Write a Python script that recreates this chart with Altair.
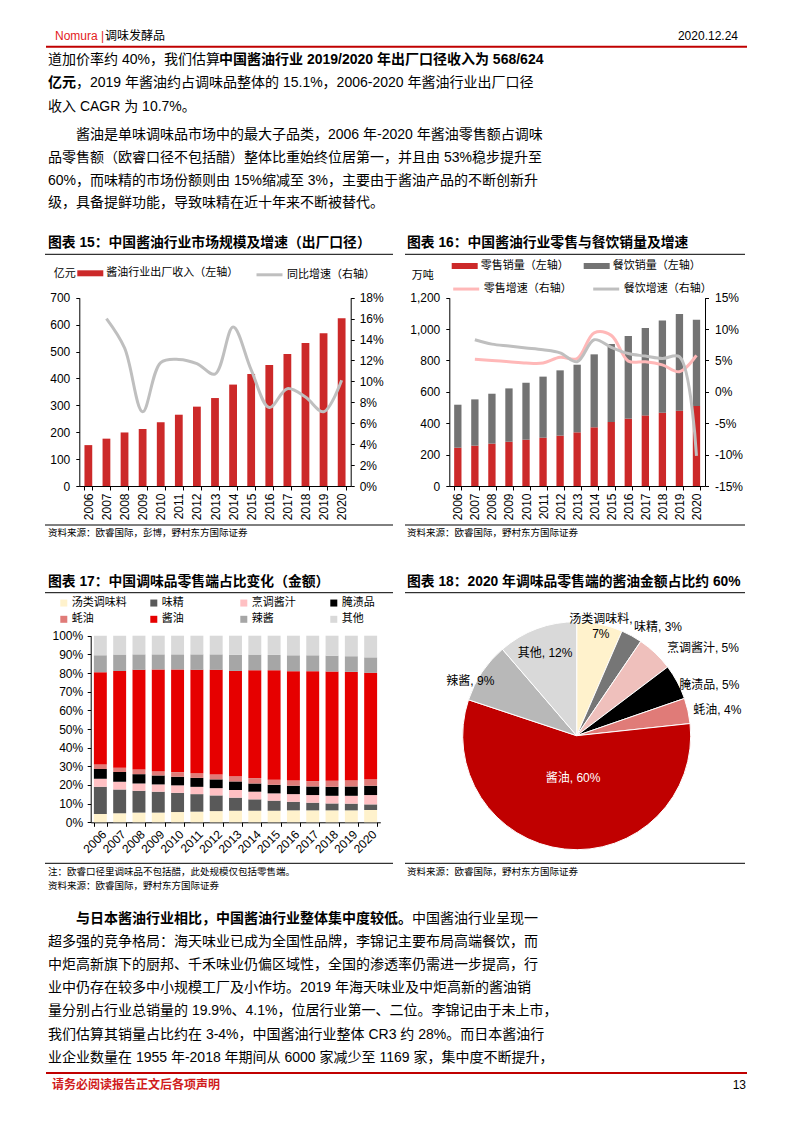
import altair as alt
import pandas as pd

M = 8
W, H = 777, 1106
FONT = "'Liberation Sans', 'Noto Sans CJK SC'"

years = [str(y) for y in range(2006, 2021)]

# 图表15 酱油行业出厂收入（亿元）与同比增速（%）
rev_15 = [152, 176, 199, 212, 237, 265, 295, 327, 377, 416, 450, 491, 532, 568, 624]
yoy_15 = [None, 16.0, 13.2, 7.1, 11.8, 12.1, 11.7, 10.7, 15.2, 11.1, 7.5, 9.3, 8.5, 7.1, 10.1]
s15_bar = "酱油行业出厂收入（左轴）"
s15_line = "同比增速（右轴）"

# 图表16 零售 / 餐饮销量（万吨）与增速（%）
retail_16 = [244, 257, 270, 282, 295, 308, 321, 342, 374, 408, 429, 450, 467, 480, 510]
catering_16 = [274, 295, 318, 340, 363, 389, 416, 431, 465, 497, 527, 557, 587, 616, 550]
retail_yoy_16 = [None, 5.2, 5.0, 4.8, 4.6, 4.6, 5.5, 5.3, 9.4, 9.0, 4.9, 4.8, 4.3, 3.2, 5.8]
catering_yoy_16 = [None, 8.3, 7.6, 7.3, 7.0, 6.7, 6.2, 4.8, 8.3, 7.1, 6.1, 5.7, 5.3, 5.6, -10.2]
s16_bars = ["零售销量（左轴）", "餐饮销量（左轴）"]
s16_lines = ["零售增速（右轴）", "餐饮增速（右轴）"]

# 图表17 调味品零售端占比（%）
cats = ["汤类调味料", "味精", "烹调酱汁", "腌渍品", "蚝油", "酱油", "辣酱", "其他"]
soup = [4.4, 4.8, 5.2, 5.2, 5.5, 5.7, 6.0, 6.2, 6.2, 6.2, 6.4, 6.4, 6.4, 6.4, 6.6]
msg = [14.6, 12.8, 11.7, 11.2, 10.3, 9.4, 8.4, 7.0, 6.1, 5.4, 4.6, 4.1, 3.7, 3.6, 3.0]
sauce = [4.3, 4.1, 3.9, 3.9, 4.0, 3.9, 3.9, 4.1, 4.1, 3.9, 4.1, 4.1, 4.1, 4.2, 5.0]
pickle = [5.3, 5.2, 5.0, 4.8, 4.6, 4.8, 4.7, 4.6, 4.4, 4.6, 4.5, 4.6, 4.8, 5.0, 5.0]
oyster = [2.4, 2.3, 2.5, 2.3, 2.5, 2.5, 2.6, 2.8, 2.9, 2.7, 2.8, 2.9, 3.2, 3.4, 3.5]
soy = [49.4, 51.9, 53.4, 54.5, 55.0, 55.4, 56.1, 56.4, 57.8, 58.7, 58.6, 58.9, 58.6, 58.0, 57.0]
chili = [9.1, 8.8, 8.3, 8.1, 8.1, 8.3, 8.3, 8.6, 8.4, 8.2, 8.5, 8.5, 8.5, 8.4, 8.3]
other = [10.5, 10.1, 10.0, 10.0, 10.0, 10.0, 10.0, 10.3, 10.1, 10.3, 10.5, 10.5, 10.7, 11.0, 11.6]
shares_17 = [soup, msg, sauce, pickle, oyster, soy, chili, other]

# 图表18 2020年占比
pie_vals = [6.5, 3.0, 5.2, 5.0, 3.6, 56.8, 8.6, 11.3]
pie_pct = ["7%", "3%", "5%", "5%", "4%", "60%", "9%", "12%"]

colors_17 = ["#FFF2CC", "#595959", "#FFC0C3", "#000000", "#E07B78", "#E60000", "#A6A6A6", "#D9D9D9"]
colors_18 = ["#FFF2CC", "#767676", "#EFC0BC", "#000000", "#E07B78", "#C00000", "#B8B8B8", "#D9D9D9"]

# ---------------- helpers ----------------
def T(text, x, y, size=14, weight="normal", color="#000000", align="left", font=FONT):
    return alt.Chart().mark_text(
        text=text, align=align, baseline="middle", fontSize=size,
        fontWeight=weight, color=color, font=font
    ).encode(x=alt.value(x - M), y=alt.value(y - M))


def R(x1, x2, y, color="#000000", width=1.0):
    return alt.Chart().mark_rule(color=color, strokeWidth=width).encode(
        x=alt.value(x1 - M), x2=alt.value(x2 - M), y=alt.value(y - M)
    )


AX = dict(domainColor="#000000", tickColor="#000000", labelColor="#000000",
          grid=False, labelFont="Liberation Sans", labelFontSize=12, domainWidth=1)
BAR_SYM = "M-1,-0.23H1V0.23H-1Z"
LEG = dict(orient="none", title=None, labelFont=FONT, labelFontSize=11,
           labelColor="#000000", padding=0)
TS = 13.8

layers = []

# ---------------- header / body text ----------------
layers += [
    T("Nomura |", 55, 36, 12, color="#E31A1C"),
    T("调味发酵品", 105, 36, 12),
    T("2020.12.24", 738, 36, 12, align="right"),
    R(46, 747, 46.7, "#C00000", 2),
]

top_lines = [
    (60, [(48, "道加价率约 40%，我们估算", "normal"),
          (219, "中国酱油行业 2019/2020 年出厂口径收入为 568/624", "bold")]),
    (83.3, [(48, "亿元", "bold"),
            (76, "，2019 年酱油约占调味品整体的 15.1%，2006-2020 年酱油行业出厂口径", "normal")]),
    (106.6, [(48, "收入 CAGR 为 10.7%。", "normal")]),
    (135, [(76, "酱油是单味调味品市场中的最大子品类，2006 年-2020 年酱油零售额占调味", "normal")]),
    (157.8, [(48, "品零售额（欧睿口径不包括醋）整体比重始终位居第一，并且由 53%稳步提升至", "normal")]),
    (180.6, [(48, "60%，而味精的市场份额则由 15%缩减至 3%，主要由于酱油产品的不断创新升", "normal")]),
    (203.4, [(48, "级，具备提鲜功能，导致味精在近十年来不断被替代。", "normal")]),
]
bottom_lines = [
    (918.5, [(76, "与日本酱油行业相比，中国酱油行业整体集中度较低。", "bold"),
             (412, "中国酱油行业呈现一", "normal")]),
    (941.7, [(48, "超多强的竞争格局：海天味业已成为全国性品牌，李锦记主要布局高端餐饮，而", "normal")]),
    (964.9, [(48, "中炬高新旗下的厨邦、千禾味业仍偏区域性，全国的渗透率仍需进一步提高，行", "normal")]),
    (988.1, [(48, "业中仍存在较多中小规模工厂及小作坊。2019 年海天味业及中炬高新的酱油销", "normal")]),
    (1011.3, [(48, "量分别占行业总销量的 19.9%、4.1%，位居行业第一、二位。李锦记由于未上市，", "normal")]),
    (1034.5, [(48, "我们估算其销量占比约在 3-4%，中国酱油行业整体 CR3 约 28%。而日本酱油行", "normal")]),
    (1057.7, [(48, "业企业数量在 1955 年-2018 年期间从 6000 家减少至 1169 家，集中度不断提升，", "normal")]),
]
for y, segs in top_lines + bottom_lines:
    for x, s, w in segs:
        layers.append(T(s, x, y, 14, weight=w))

layers += [
    R(46, 747, 1073, "#C00000", 2),
    T("请务必阅读报告正文后各项声明", 52, 1085, 12, weight="bold", color="#D01C1C"),
    T("13", 746, 1085, 12, align="right"),
]

# ---------------- chart titles, rules, sources ----------------
layers += [
    T("图表 15：中国酱油行业市场规模及增速（出厂口径）", 48, 243, TS, weight="bold"),
    R(45, 393, 254.3),
    R(45, 393, 525),
    T("资料来源：欧睿国际，彭博，野村东方国际证券", 48, 533, 9.5),
    T("图表 16：中国酱油行业零售与餐饮销量及增速", 407, 243, TS, weight="bold"),
    R(405, 745, 254.3),
    R(405, 745, 525),
    T("资料来源：欧睿国际，野村东方国际证券", 407, 533, 9.5),
    T("图表 17：中国调味品零售端占比变化（金额）", 48, 581.7, TS, weight="bold"),
    R(45, 393, 592.7),
    R(45, 393, 863.3),
    T("注：欧睿口径里调味品不包括醋，此处规模仅包括零售端。", 48, 872, 9.5),
    T("资料来源：欧睿国际，野村东方国际证券", 48, 885.5, 9.5),
    T("图表 18：2020 年调味品零售端的酱油金额占比约 60%", 407, 581.7, TS, weight="bold"),
    R(405, 745, 592.7),
    R(405, 745, 863.3),
    T("资料来源：欧睿国际，野村东方国际证券", 407, 872, 9.5),
]

# ---------------- 图表15 ----------------
df15 = pd.DataFrame({"year": years, "rev": rev_15, "yoy": yoy_15})
df15["sb"] = s15_bar
df15["sl"] = s15_line
df15_line = df15.dropna(subset=["yoy"])

Y0, Y1 = 486 - M, 297.7 - M
x15_rng = [79.3 - M, 350.7 - M]

bars15 = alt.Chart(df15).mark_bar().encode(
    x=alt.X("year:O", scale=alt.Scale(domain=years, range=x15_rng, paddingInner=0.57, paddingOuter=0.285),
            axis=alt.Axis(orient="bottom", offset=Y0 - H, title=None, labelAngle=-90, tickBand="extent",
                          tickSize=4, labelPadding=3, **AX)),
    y=alt.Y("rev:Q", scale=alt.Scale(domain=[0, 700], range=[Y0, Y1], nice=False),
            axis=alt.Axis(orient="left", offset=-(79.3 - M), values=list(range(0, 701, 100)), tickSize=3.5,
                          labelPadding=6, title="亿元", titleAngle=0, titleX=-15, titleY=273.3 - M,
                          titleAlign="center", titleBaseline="middle", titleFont=FONT, titleFontSize=11,
                          titleFontWeight="normal", titleColor="#000000", **AX)),
    color=alt.Color("sb:N", scale=alt.Scale(domain=[s15_bar], range=["#CC2929"]),
                    legend=alt.Legend(legendX=77.3 - M, legendY=273.3 - M - 13, symbolType=BAR_SYM,
                                      symbolSize=676, symbolStrokeWidth=0, labelOffset=3, **LEG)),
)
line15 = alt.Chart(df15_line).mark_line(strokeWidth=3, interpolate="catmull-rom").encode(
    x=alt.X("year:O", scale=alt.Scale(type="point", domain=years, range=x15_rng, padding=0.5), axis=None),
    y=alt.Y("yoy:Q", scale=alt.Scale(domain=[0, 18], range=[Y0, Y1], nice=False),
            axis=alt.Axis(orient="right", offset=(350.7 - M) - W, values=list(range(0, 19, 2)),
                          labelExpr="datum.value + '%'", tickSize=3.5, labelPadding=5, title=None, **AX)),
    color=alt.Color("sl:N", scale=alt.Scale(domain=[s15_line], range=["#BFBFBF"]),
                    legend=alt.Legend(legendX=255 - M, legendY=273.3 - M - 13, symbolType="stroke",
                                      symbolSize=676, symbolStrokeWidth=3, labelOffset=3, **LEG)),
)
layers += [bars15, line15]

# ---------------- 图表16 ----------------
rows = []
for i, yr in enumerate(years):
    rows.append({"year": yr, "s": s16_bars[0], "v": retail_16[i], "k": 0})
    rows.append({"year": yr, "s": s16_bars[1], "v": catering_16[i], "k": 1})
df16b = pd.DataFrame(rows)
rows = []
for i, yr in enumerate(years):
    if retail_yoy_16[i] is not None:
        rows.append({"year": yr, "s": s16_lines[0], "v": retail_yoy_16[i]})
    if catering_yoy_16[i] is not None:
        rows.append({"year": yr, "s": s16_lines[1], "v": catering_yoy_16[i]})
df16l = pd.DataFrame(rows)

x16_rng = [449.3 - M, 705 - M]
bars16 = alt.Chart(df16b).mark_bar().encode(
    x=alt.X("year:O", scale=alt.Scale(domain=years, range=x16_rng, paddingInner=0.57, paddingOuter=0.285),
            axis=alt.Axis(orient="bottom", offset=Y0 - H, title=None, labelAngle=-90, tickBand="extent",
                          tickSize=4, labelPadding=3, **AX)),
    y=alt.Y("v:Q", stack="zero", scale=alt.Scale(domain=[0, 1200], range=[Y0, Y1], nice=False),
            axis=alt.Axis(orient="left", offset=-(449.3 - M), values=list(range(0, 1201, 200)),
                          labelExpr="format(datum.value, ',.0f')",
                          tickSize=3.5, labelPadding=6, title="万吨", titleAngle=0, titleX=-27,
                          titleY=275 - M, titleAlign="center", titleBaseline="middle", titleFont=FONT,
                          titleFontSize=11, titleFontWeight="normal", titleColor="#000000", **AX)),
    color=alt.Color("s:N", scale=alt.Scale(domain=s16_bars, range=["#CC2929", "#737373"]),
                    legend=alt.Legend(legendX=451.7 - M, legendY=266 - M - 13, symbolType=BAR_SYM,
                                      symbolSize=676, symbolStrokeWidth=0, labelOffset=3, columns=2,
                                      direction="horizontal", columnPadding=15, gridAlign="all", **LEG)),
    order=alt.Order("k:Q", sort="ascending"),
)
line16 = alt.Chart(df16l).mark_line(strokeWidth=3, interpolate="catmull-rom").encode(
    x=alt.X("year:O", scale=alt.Scale(type="point", domain=years, range=x16_rng, padding=0.5), axis=None),
    y=alt.Y("v:Q", scale=alt.Scale(domain=[-15, 15], range=[Y0, Y1], nice=False),
            axis=alt.Axis(orient="right", offset=(705 - M) - W, values=list(range(-15, 16, 5)),
                          labelExpr="datum.value + '%'", tickSize=3.5, labelPadding=6, title=None, **AX)),
    color=alt.Color("s:N", scale=alt.Scale(domain=s16_lines, range=["#FFB8B8", "#BFBFBF"]),
                    legend=alt.Legend(legendX=451.7 - M, legendY=287.3 - M - 13, symbolType="stroke",
                                      symbolSize=676, symbolStrokeWidth=3, labelOffset=3, columns=2,
                                      direction="horizontal", columnPadding=15, gridAlign="all", **LEG)),
)
layers += [bars16, line16]

# ---------------- 图表17 ----------------
rows = []
for i, yr in enumerate(years):
    for k, c in enumerate(cats):
        rows.append({"year": yr, "cat": c, "v": shares_17[k][i], "k": k})
df17 = pd.DataFrame(rows)
bars17 = alt.Chart(df17).mark_bar().encode(
    x=alt.X("year:O", scale=alt.Scale(domain=years, range=[90.7 - M, 380.3 - M], paddingInner=0.33,
                                      paddingOuter=0.165),
            axis=alt.Axis(orient="bottom", offset=(822.3 - M) - H, title=None, labelAngle=-45,
                          tickBand="extent", tickSize=4, labelPadding=2, **AX)),
    y=alt.Y("v:Q", stack="zero", scale=alt.Scale(domain=[0, 100], range=[822.3 - M, 635.7 - M], nice=False),
            axis=alt.Axis(orient="left", offset=-(90.7 - M), values=list(range(0, 101, 10)),
                          labelExpr="datum.value + '%'", tickSize=3.5, labelPadding=4.5, title=None, **AX)),
    color=alt.Color("cat:N", scale=alt.Scale(domain=cats, range=colors_17),
                    legend=alt.Legend(legendX=58.3 - M, legendY=603.3 - M - 6, symbolType="square",
                                      symbolSize=49, symbolStrokeWidth=0, labelOffset=2.5, columns=4,
                                      direction="horizontal", columnPadding=21, rowPadding=4.5,
                                      gridAlign="all", **LEG)),
    order=alt.Order("k:Q", sort="ascending"),
)
layers.append(bars17)

# ---------------- 图表18 ----------------
CX, CY = 576.7 - M, 735.7 - M
labels = [f"{c}, {p}" for c, p in zip(cats, pie_pct)]
labels[0] = f"{cats[0]},\n{pie_pct[0]}"
df18 = pd.DataFrame({"cat": cats, "v": pie_vals, "k": list(range(len(cats))), "label": labels})
pie = alt.Chart(df18).mark_arc(outerRadius=114, stroke="#FFFFFF", strokeWidth=1).encode(
    theta=alt.Theta("v:Q", stack=True, scale=alt.Scale(domain=[0, 100])),
    color=alt.Color("cat:N", scale=alt.Scale(domain=cats, range=colors_18), legend=None),
    order=alt.Order("k:Q", sort="ascending"),
    x=alt.value(CX), y=alt.value(CY),
)
layers.append(pie)

place = {
    "汤类调味料": (119, 0, 0, "#000000"),
    "味精": (130, 18.7, 4.9, "#000000"),
    "烹调酱汁": (130, 36.6, 6.4, "#000000"),
    "腌渍品": (130, 17.9, 10.5, "#000000"),
    "蚝油": (135, 8.9, 3.7, "#000000"),
    "酱油": (43, 1, -0.5, "#FFFFFF"),
    "辣酱": (120, -6.7, 12.1, "#000000"),
    "其他": (88, -1, 0, "#000000"),
}
for c in cats:
    r, dx, dy, col = place[c]
    lab = alt.Chart(df18).transform_window(
        cum="sum(v)", sort=[alt.SortField("k")], frame=[None, 0]
    ).transform_calculate(mid="datum.cum - datum.v / 2").transform_filter(
        alt.datum.cat == c
    ).mark_text(radius=r, dx=dx, dy=dy, align="center", baseline="middle", fontSize=12, font=FONT,
                color=col, lineBreak="\n", lineHeight=14.5).encode(
        theta=alt.Theta("mid:Q", scale=alt.Scale(domain=[0, 100])),
        text="label:N",
        x=alt.value(CX), y=alt.value(CY),
    )
    layers.append(lab)

chart = alt.layer(*layers).resolve_scale(
    x="independent", y="independent", color="independent", theta="independent"
).properties(
    width=W, height=H, padding=0, autosize=alt.AutoSizeParams(type="none"), background="#FFFFFF"
).configure_view(stroke=None)

chart.save("out.html", embed_options={"renderer": "svg", "actions": False})
